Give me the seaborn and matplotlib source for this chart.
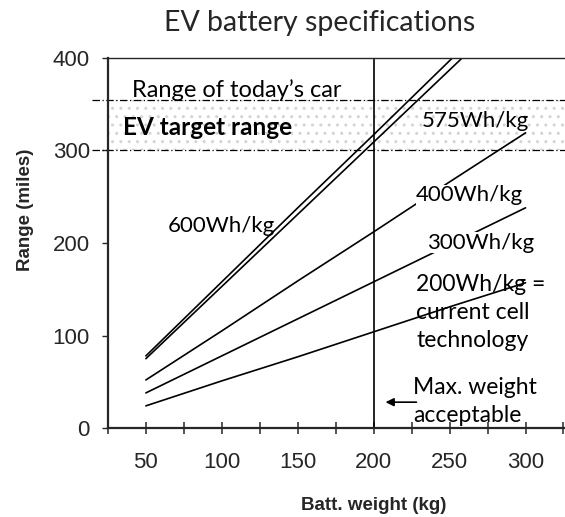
import pandas as pd
import matplotlib.pyplot as plt
import seaborn as sns

# Data
weight = [50, 100, 150, 200, 250, 300]          # battery weight (kg)
range_600 = [78, 158, 238, 317, 397, 477]        # miles
range_575 = [75, 153, 231, 309, 387, 465]
range_400 = [52, 105, 159, 212, 266, 319]
range_300 = [38, 78, 118, 158, 198, 238]
range_200 = [24, 51, 77, 104, 131, 157]
densities = ['600Wh/kg', '575Wh/kg', '400Wh/kg', '300Wh/kg', '200Wh/kg']

todays_car_range = 355
ev_target_low = 300
max_weight = 200

x_major = [50, 100, 150, 200, 250, 300]
x_minor = [25, 75, 125, 175, 225, 275, 325]
y_ticks = [0, 100, 200, 300, 400]

frames = []
for name, vals in zip(densities, [range_600, range_575, range_400, range_300, range_200]):
    frames.append(pd.DataFrame({'weight': weight, 'range': vals, 'density': name}))
df = pd.concat(frames, ignore_index=True)

sns.set_style('ticks')
plt.rcParams['font.family'] = ['Liberation Sans', 'DejaVu Sans']
label_font = ['Lato', 'DejaVu Sans']

fig = plt.figure(figsize=(5.65, 5.17), dpi=100, facecolor='white')
ax = fig.add_axes([0.191, 0.172, 0.809, 0.716])

# EV target band with a light stipple
ax.axhspan(ev_target_low, todays_car_range, facecolor='none', edgecolor='#d4d4d4',
           hatch='..', linewidth=0, zorder=0)
for yv in [todays_car_range, ev_target_low]:
    ax.plot([-0.035, 1], [yv, yv], transform=ax.get_yaxis_transform(), clip_on=False,
            color='black', lw=0.9, ls=(0, (6, 2, 1, 2)), zorder=1)

sns.lineplot(data=df, x='weight', y='range', hue='density', palette=['black'] * 5,
             legend=False, lw=1.2, ax=ax, zorder=2)

ax.axvline(max_weight, color='black', lw=1.2, zorder=2)

ax.set_xlim(25, 326)
ax.set_ylim(0, 400)
ax.set_xticks(x_major)
ax.set_xticks(x_minor, minor=True)
ax.set_yticks(y_ticks)
ax.tick_params(axis='x', which='both', direction='inout', length=8, width=1.1,
               labelsize=16, pad=13)
ax.tick_params(axis='y', direction='out', length=4, width=1, labelsize=16, pad=9)
ax.set_xlabel('')
ax.set_ylabel('')
for s in ['left', 'bottom']:
    ax.spines[s].set_linewidth(1.6)
ax.spines['top'].set_linewidth(1.0)
ax.spines['right'].set_visible(False)

# Annotations
txt = dict(family=label_font, color='black')
ax.text(41, 358, "Range of today\u2019s car", va='baseline', fontsize=17, **txt)
ax.text(35, 317, 'EV target range', va='baseline', fontweight='bold', fontsize=17.5, **txt)
ax.text(231.5, 325, '575Wh/kg', va='baseline', zorder=3, fontsize=16, **txt)
ax.text(64.5, 212, '600Wh/kg', va='baseline', fontsize=16, **txt)
ax.text(228, 245, '400Wh/kg', va='baseline', zorder=3, fontsize=16,
        bbox=dict(facecolor='white', edgecolor='none', pad=0.5), **txt)
ax.text(235, 194, '300Wh/kg', va='baseline', zorder=3, fontsize=16,
        bbox=dict(facecolor='white', edgecolor='none', pad=0.5), **txt)
ax.text(228, 166, '200Wh/kg =\ncurrent cell\ntechnology', va='top', fontsize=16.5,
        linespacing=1.4, zorder=1, **txt)
ax.text(226, 55, 'Max. weight\nacceptable', va='top', fontsize=16.5,
        linespacing=1.4, **txt)
ax.annotate('', xy=(206, 28), xytext=(230, 28),
            arrowprops=dict(arrowstyle='-|>', color='black', lw=1.2, mutation_scale=12))

fig.text(0.565, 0.955, 'EV battery specifications', ha='center', va='center',
         fontsize=20.5, family=label_font)
fig.text(0.662, 0.023, 'Batt. weight (kg)', ha='center', va='center',
         fontsize=13.5, fontweight='bold')
fig.text(0.045, 0.594, 'Range (miles)', ha='center', va='center', rotation=90,
         fontsize=13.5, fontweight='bold')

fig.savefig('out.png', dpi=100, facecolor='white')
